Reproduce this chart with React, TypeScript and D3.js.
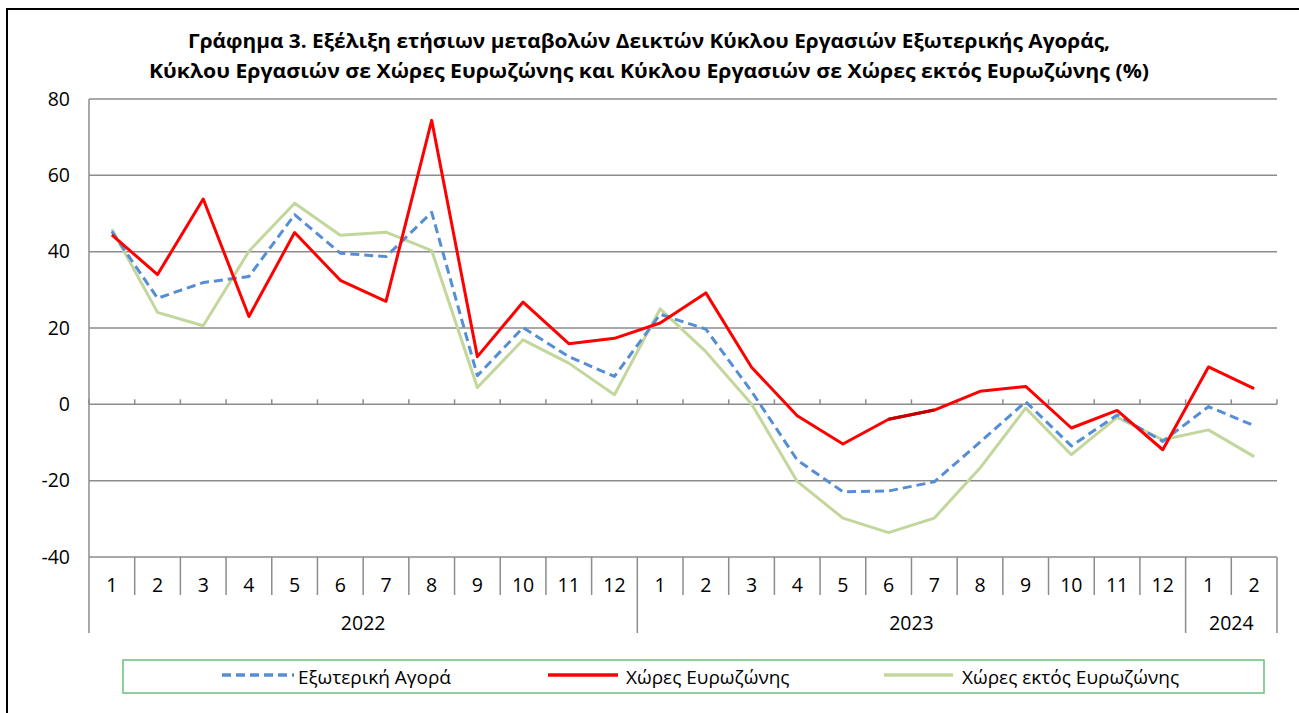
import React from "react";
import * as d3 from "d3";

const months = ["1","2","3","4","5","6","7","8","9","10","11","12","1","2","3","4","5","6","7","8","9","10","11","12","1","2"];
const years = [
  { label: "2022", start: 0, end: 12 },
  { label: "2023", start: 12, end: 24 },
  { label: "2024", start: 24, end: 26 },
];
const exoteriki = [45.3, 27.8, 31.9, 33.5, 49.7, 39.6, 38.7, 50.3, 7.5, 20.1, 12.5, 7.3, 23.6, 19.7, 3.4, -14.6, -22.9, -22.7, -20.3, -9.9, 0.7, -10.9, -2.8, -9.7, -0.6, -5.6];
const eurozone = [44.4, 34.0, 53.8, 23.0, 45.0, 32.5, 27.0, 74.4, 12.5, 26.8, 15.9, 17.3, 21.3, 29.2, 9.7, -3.0, -10.4, -3.9, -1.5, 3.4, 4.7, -6.2, -1.6, -11.9, 9.8, 4.1];
const nonEurozone = [45.9, 24.1, 20.6, 40.1, 52.7, 44.3, 45.1, 40.3, 4.4, 16.9, 10.8, 2.5, 25.0, 13.8, 0.1, -20.2, -29.8, -33.6, -29.8, -16.7, -1.0, -13.2, -3.4, -9.3, -6.7, -13.7];
const yTicks = [80, 60, 40, 20, 0, -20, -40];
const titleLines = [
  "Γράφημα 3. Εξέλιξη  ετήσιων μεταβολών Δεικτών Κύκλου Εργασιών Εξωτερικής Αγοράς,",
  "Κύκλου Εργασιών σε Χώρες Ευρωζώνης και Κύκλου Εργασιών σε Χώρες εκτός Ευρωζώνης (%)",
];
const legendLabels = ["Εξωτερική Αγορά", "Χώρες Ευρωζώνης", "Χώρες εκτός Ευρωζώνης"];

const FONT = "'Open Sans', 'Noto Sans', sans-serif";

export default function App() {
  const left = 89, right = 1277, top = 99, bottom = 557;
  const idx = months.map((_, i) => i);
  const x = d3.scaleBand<number>().domain(idx).range([left, right]);
  const y = d3.scaleLinear().domain([-40, 80]).range([bottom, top]);
  const cx = (i: number) => (x(i) as number) + x.bandwidth() / 2;
  const line = d3.line<number>().x((_, i) => cx(i)).y((d) => y(d));

  const series = [
    { data: nonEurozone, color: "#C3D69B", dash: undefined as string | undefined },
    { data: exoteriki, color: "#558ED5", dash: "9,5" },
    { data: eurozone, color: "#FF0000", dash: undefined as string | undefined },
  ];

  const bw = x.bandwidth();
  const boundaries = d3.range(0, months.length + 1).map((i) => left + i * bw);
  const yearBounds = new Set<number>();
  years.forEach((yr) => { yearBounds.add(yr.start); yearBounds.add(yr.end); });

  const legendItems = [
    { label: legendLabels[0], color: "#558ED5", dash: "9,5", x1: 222, x2: 294, tx: 298 },
    { label: legendLabels[1], color: "#FF0000", dash: undefined, x1: 548, x2: 618, tx: 626 },
    { label: legendLabels[2], color: "#C3D69B", dash: undefined, x1: 884, x2: 953, tx: 962 },
  ];

  return (
    <svg width={1299} height={713} style={{ position: "absolute", left: 0, top: 0, background: "#fff" }} fontFamily={FONT}>
      <rect x={0} y={0} width={1299} height={713} fill="#fff" />
      <rect x={7} y={9} width={1300} height={720} fill="none" stroke="#000" strokeWidth={2} />
      {titleLines.map((t, i) => (
        <text key={i} x={649} y={48 + i * 30} textAnchor="middle" fontSize={19} fontWeight="bold" fill="#000"
          textLength={i === 0 ? 922 : 1000} lengthAdjust="spacingAndGlyphs">{t}</text>
      ))}
      {yTicks.map((t) => (
        <line key={t} x1={left} x2={right} y1={y(t)} y2={y(t)} stroke="#8c8c8c" strokeWidth={1.5} />
      ))}
      <line x1={left} x2={left} y1={top} y2={bottom} stroke="#8c8c8c" strokeWidth={1.5} />
      {yTicks.map((t) => (
        <text key={t} x={70} y={y(t)} dy="0.35em" textAnchor="end" fontSize={19.5} fill="#000">{t}</text>
      ))}
      {boundaries.map((bx, i) => (
        <line key={"zt" + i} x1={bx} x2={bx} y1={y(0) - 5} y2={y(0)} stroke="#8c8c8c" strokeWidth={1.5} />
      ))}
      {boundaries.map((bx, i) => (
        <line key={"cs" + i} x1={bx} x2={bx} y1={bottom} y2={yearBounds.has(i) ? 633 : 595} stroke="#8c8c8c" strokeWidth={1.5} />
      ))}
      {months.map((m, i) => (
        <text key={"m" + i} x={cx(i)} y={585} dy="0.35em" textAnchor="middle" fontSize={19.5} fill="#000">{m}</text>
      ))}
      {years.map((yr) => (
        <text key={yr.label} x={left + ((yr.start + yr.end) / 2) * bw} y={623} dy="0.35em" textAnchor="middle" fontSize={19.5} fill="#000">{yr.label}</text>
      ))}
      {series.map((s, i) => (
        <path key={i} d={line(s.data) || ""} fill="none" stroke={s.color} strokeWidth={3} strokeDasharray={s.dash} strokeLinejoin="round" />
      ))}
      <line x1={cx(17)} y1={y(eurozone[17])} x2={cx(18)} y2={y(eurozone[18])} stroke="#C00000" strokeWidth={3} />
      <rect x={123} y={660} width={1141} height={33} fill="#fff" stroke="#6BBF77" strokeWidth={1.5} />
      {legendItems.map((l) => (
        <g key={l.label}>
          <line x1={l.x1} x2={l.x2} y1={675} y2={675} stroke={l.color} strokeWidth={3.5} strokeDasharray={l.dash} />
          <text x={l.tx} y={677} dy="0.35em" fontSize={19} fill="#000">{l.label}</text>
        </g>
      ))}
    </svg>
  );
}
